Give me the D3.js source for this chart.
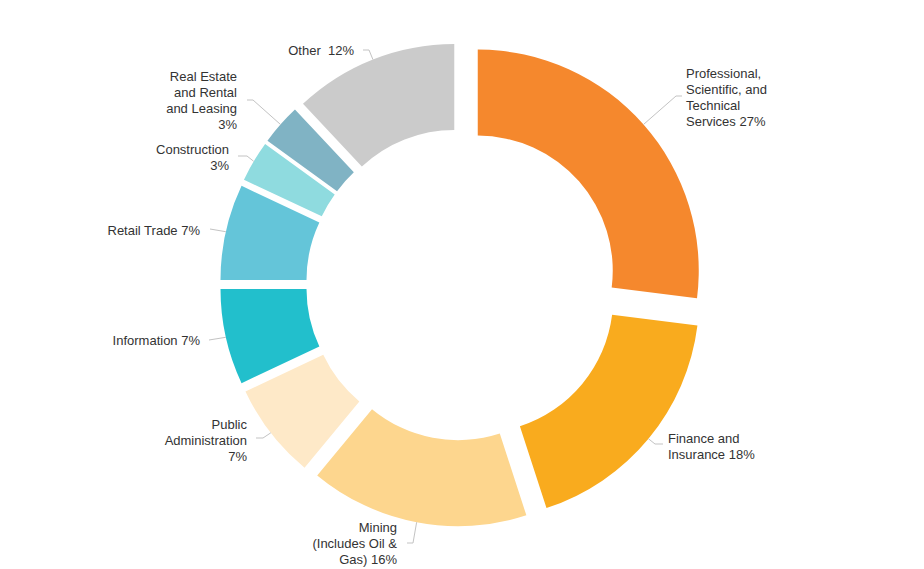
<!DOCTYPE html>
<html>
<head>
<meta charset="utf-8">
<script src="https://cdn.jsdelivr.net/npm/d3@7"></script>
<style>
  html, body { margin: 0; padding: 0; background: #fff; }
  svg text { font-family: "Liberation Sans", Arial, sans-serif; font-size: 13px; fill: #333; white-space: pre; }
</style>
</head>
<body>
<svg id="chart"></svg>
<script>
(function() {
  // 类别
  var categories = [
    'Professional, Scientific, and Technical Services',
    'Finance and Insurance',
    'Mining (Includes Oil & Gas)',
    'Public Administration',
    'Information',
    'Retail Trade',
    'Construction',
    'Real Estate and Rental and Leasing',
    'Other'
  ];
  // 百分比
  var values = [27, 18, 16, 7, 7, 7, 3, 3, 12];
  // 标签文字（按行）
  var labelLines = [
    ['Professional,', 'Scientific, and', 'Technical', 'Services 27%'],
    ['Finance and', 'Insurance 18%'],
    ['Mining', '(Includes Oil &', 'Gas) 16%'],
    ['Public', 'Administration', '7%'],
    ['Information 7%'],
    ['Retail Trade 7%'],
    ['Construction', '3%'],
    ['Real Estate', 'and Rental', 'and Leasing', '3%'],
    ['Other  12%']
  ];
  var colors = ['#f5882d', '#f9ab1e', '#fdd68e', '#fee9c8', '#22bfcc',
    '#64c5d9', '#8fdbdf', '#80b3c4', '#cbcbcb'];

  // 标签布局: 文字x, 对齐, 块中心y, 折点, 终点
  var labelLayout = [
    { tx: 686, anchor: 'start', ty: 97, elbow: [676, 96], end: [682, 96] },
    { tx: 668, anchor: 'start', ty: 446, elbow: [655, 444], end: [663, 444] },
    { tx: 397, anchor: 'end', ty: 543, elbow: [413, 543], end: [407, 543] },
    { tx: 247, anchor: 'end', ty: 440, elbow: [263, 438], end: [256, 438] },
    { tx: 200, anchor: 'end', ty: 340, elbow: [209, 340], end: [209, 340] },
    { tx: 200, anchor: 'end', ty: 230, elbow: [210, 229], end: [210, 229] },
    { tx: 229, anchor: 'end', ty: 157, elbow: [247, 156], end: [238, 156] },
    { tx: 237, anchor: 'end', ty: 100, elbow: [253, 100], end: [247, 100] },
    { tx: 354, anchor: 'end', ty: 50, elbow: [369, 50], end: [363, 50] }
  ];

  var width = 924;
  var height = 569;
  var cx = 462;
  var cy = 284.5;
  var outerRadius = 221;
  var innerRadius = 135;
  // 分离距离
  var explode = 21;
  var lineHeight = 16;

  var svg = d3.select('#chart')
    .attr('width', width)
    .attr('height', height);

  var pie = d3.pie().sort(null).value(function(d) { return d; });
  var arcs = pie(values);

  var arc = d3.arc()
    .innerRadius(innerRadius)
    .outerRadius(outerRadius);

  function offset(d) {
    var a = (d.startAngle + d.endAngle) / 2;
    return [Math.sin(a) * explode, -Math.cos(a) * explode];
  }

  var g = svg.append('g')
    .attr('transform', 'translate(' + cx + ',' + cy + ')');

  // 扇区
  g.selectAll('path.slice')
    .data(arcs)
    .enter()
    .append('path')
    .attr('class', 'slice')
    .attr('transform', function(d) {
      var o = offset(d);
      return 'translate(' + o[0] + ',' + o[1] + ')';
    })
    .attr('d', arc)
    .attr('fill', function(d, i) { return colors[i]; });

  // 引线
  svg.selectAll('polyline.leader')
    .data(arcs)
    .enter()
    .append('polyline')
    .attr('class', 'leader')
    .attr('fill', 'none')
    .attr('stroke', '#c3c3c3')
    .attr('stroke-width', 1)
    .attr('points', function(d, i) {
      var a = (d.startAngle + d.endAngle) / 2;
      var o = offset(d);
      var sx = cx + o[0] + Math.sin(a) * outerRadius;
      var sy = cy + o[1] - Math.cos(a) * outerRadius;
      var L = labelLayout[i];
      return [[sx, sy], L.elbow, L.end].map(function(p) { return p.join(','); }).join(' ');
    });

  // 标签
  var labels = svg.selectAll('text.label')
    .data(arcs)
    .enter()
    .append('text')
    .attr('class', 'label')
    .attr('text-anchor', function(d, i) { return labelLayout[i].anchor; });

  labels.each(function(d, i) {
    var L = labelLayout[i];
    var lines = labelLines[i];
    var top = L.ty - (lines.length - 1) * lineHeight / 2 + 4.6;
    d3.select(this).selectAll('tspan')
      .data(lines)
      .enter()
      .append('tspan')
      .attr('x', L.tx)
      .attr('y', function(t, j) { return top + j * lineHeight; })
      .text(function(t) { return t; });
  });
}());
</script>
</body>
</html>
